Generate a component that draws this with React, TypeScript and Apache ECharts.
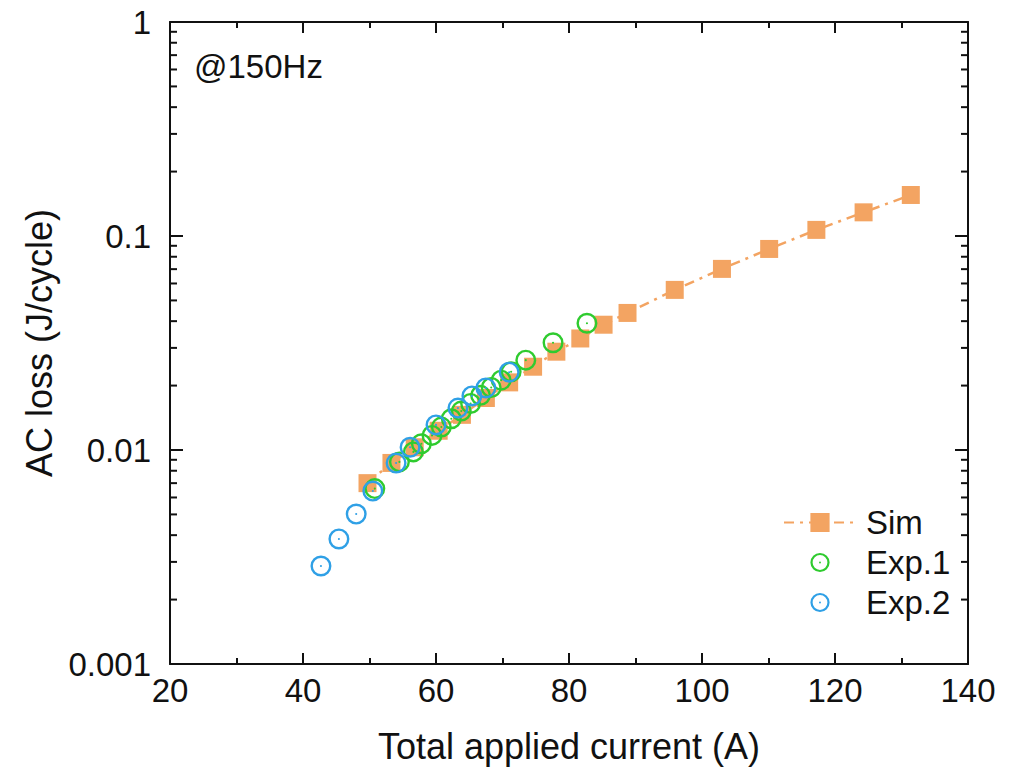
import React, { useEffect, useRef } from "react";
import * as echarts from "echarts";

const simX = [49.7, 53.3, 56.8, 60.4, 63.9, 67.5, 71.0, 74.6, 78.1, 81.7, 85.2, 88.8, 95.9, 103.0, 110.1, 117.2, 124.3, 131.4];
const simY = [0.0070, 0.0087, 0.0103, 0.0123, 0.0146, 0.0175, 0.0207, 0.0245, 0.0288, 0.0332, 0.0385, 0.0437, 0.0560, 0.0702, 0.0870, 0.1068, 0.1290, 0.1555];

const exp1X = [50.8, 54.5, 56.6, 57.8, 59.4, 60.8, 62.3, 63.8, 65.2, 66.7, 68.3, 69.8, 71.3, 73.5, 77.6, 82.7];
const exp1Y = [0.0066, 0.0088, 0.0098, 0.0107, 0.0117, 0.0128, 0.0140, 0.0152, 0.0165, 0.0180, 0.0196, 0.0212, 0.0232, 0.0263, 0.0317, 0.0391];

const exp2X = [42.7, 45.4, 48.0, 50.5, 54.0, 56.1, 60.0, 63.3, 65.4, 67.5, 71.0];
const exp2Y = [0.00287, 0.00384, 0.00502, 0.00643, 0.00869, 0.0103, 0.0131, 0.0157, 0.0179, 0.0195, 0.0231];

const xTicks = [20, 40, 60, 80, 100, 120, 140];
const yTickLabels = ["0.001", "0.01", "0.1", "1"];
const yDecades = [0.001, 0.01, 0.1];
const yMinorMultipliers = [2, 3, 4, 5, 6, 7, 8, 9];

const seriesNames = ["Sim", "Exp.1", "Exp.2"];
const annotation = "@150Hz";

const FONT = "'Liberation Sans', Arial, sans-serif";
const ORANGE = "#F3A462";
const GREEN = "#2FCB2F";
const BLUE = "#2FA0E6";
const RING =
  "path://M0,-10A10,10,0,1,1,0,10A10,10,0,1,1,0,-10ZM0,-7.7A7.7,7.7,0,1,0,0,7.7A7.7,7.7,0,1,0,0,-7.7ZM0,-1A1,1,0,1,1,0,1A1,1,0,1,1,0,-1Z";

export default function App() {
  const ref = useRef<HTMLDivElement>(null);
  useEffect(() => {
    if (!ref.current) return;
    const chart = echarts.init(ref.current, undefined, { renderer: "svg" });
    const zip = (xs: number[], ys: number[]) => xs.map((x, i) => [x, ys[i]]);
    const minorVals: number[][] = [];
    yDecades.forEach((d) => yMinorMultipliers.forEach((m) => minorVals.push([xTicks[0], d * m])));
    const xMin = xTicks[0];
    const xMax = xTicks[xTicks.length - 1];
    const axisLine = { show: true, lineStyle: { color: "#111", width: 2 } };
    const yLabel = (v: number) => {
      const idx = Math.round(Math.log10(v)) + 3;
      return yTickLabels[idx] ?? String(v);
    };
    chart.setOption({
      animation: false,
      backgroundColor: "#fff",
      grid: { left: 170, right: 60, top: 22, bottom: 114, show: false },
      textStyle: { fontFamily: FONT },
      xAxis: [
        {
          type: "value",
          min: xMin,
          max: xMax,
          interval: 20,
          position: "bottom",
          axisLine,
          axisTick: { show: true, inside: true, length: 11, lineStyle: { color: "#111", width: 2 } },
          minorTick: { show: true, splitNumber: 2, length: 6, lineStyle: { color: "#111", width: 2 } },
          splitLine: { show: false },
          axisLabel: { fontSize: 33, color: "#111", margin: 10, fontFamily: FONT },
          name: "Total applied current (A)",
          nameLocation: "middle",
          nameGap: 64,
          nameTextStyle: { fontSize: 36, color: "#111", fontFamily: FONT },
        },
        {
          type: "value",
          min: xMin,
          max: xMax,
          interval: 20,
          position: "top",
          axisLine,
          axisTick: { show: true, inside: true, length: 11, lineStyle: { color: "#111", width: 2 } },
          minorTick: { show: true, splitNumber: 2, length: 6, lineStyle: { color: "#111", width: 2 } },
          splitLine: { show: false },
          axisLabel: { show: false },
        },
      ],
      yAxis: [
        {
          type: "log",
          logBase: 10,
          min: 0.001,
          max: 1,
          position: "left",
          axisLine,
          axisTick: { show: true, inside: true, length: 13, lineStyle: { color: "#111", width: 2 } },
          splitLine: { show: false },
          axisLabel: { fontSize: 33, color: "#111", margin: 19, fontFamily: FONT, formatter: yLabel },
          name: "AC loss (J/cycle)",
          nameLocation: "middle",
          nameGap: 106,
          nameTextStyle: { fontSize: 36, color: "#111", fontFamily: FONT },
        },
        {
          type: "log",
          logBase: 10,
          min: 0.001,
          max: 1,
          position: "right",
          axisLine,
          axisTick: { show: true, inside: true, length: 13, lineStyle: { color: "#111", width: 2 } },
          splitLine: { show: false },
          axisLabel: { show: false },
        },
      ],
      legend: {
        orient: "vertical",
        left: 778,
        top: 501,
        itemWidth: 72,
        itemHeight: 24,
        itemGap: 7,
        data: seriesNames,
        textStyle: { fontSize: 33, color: "#111", fontFamily: FONT, padding: [0, 0, 0, 5] },
      },
      graphic: [
        {
          type: "text",
          left: 194,
          top: 50,
          style: { text: annotation, fontSize: 33, fill: "#111", fontFamily: FONT },
        },
      ],
      series: [
        {
          type: "custom",
          name: "minorTicks",
          xAxisIndex: 0,
          yAxisIndex: 0,
          silent: true,
          clip: false,
          data: minorVals,
          renderItem: (params: any, api: any) => {
            const v = api.value(1);
            const l = api.coord([xMin, v]);
            const r = api.coord([xMax, v]);
            const style = { stroke: "#111", lineWidth: 2 };
            return {
              type: "group",
              children: [
                { type: "line", shape: { x1: l[0], y1: l[1], x2: l[0] + 7, y2: l[1] }, style },
                { type: "line", shape: { x1: r[0], y1: r[1], x2: r[0] - 7, y2: r[1] }, style },
              ],
            };
          },
        },
        {
          type: "line",
          name: seriesNames[0],
          data: zip(simX, simY),
          symbol: "rect",
          symbolSize: 18,
          itemStyle: { color: ORANGE },
          lineStyle: { color: ORANGE, width: 2.5, type: [10, 6, 3, 6] },
          emphasis: { disabled: true },
          z: 2,
        },
        {
          type: "line",
          name: seriesNames[1],
          data: zip(exp1X, exp1Y),
          symbol: RING,
          symbolSize: 21,
          itemStyle: { color: GREEN },
          lineStyle: { width: 0, opacity: 0 },
          emphasis: { disabled: true },
          z: 3,
        },
        {
          type: "line",
          name: seriesNames[2],
          data: zip(exp2X, exp2Y),
          symbol: RING,
          symbolSize: 21,
          itemStyle: { color: BLUE },
          lineStyle: { width: 0, opacity: 0 },
          emphasis: { disabled: true },
          z: 4,
        },
      ],
    });
    return () => chart.dispose();
  }, []);
  return (
    <div
      ref={ref}
      style={{ position: "fixed", left: 0, top: 0, width: 1028, height: 778, background: "#fff" }}
    />
  );
}
